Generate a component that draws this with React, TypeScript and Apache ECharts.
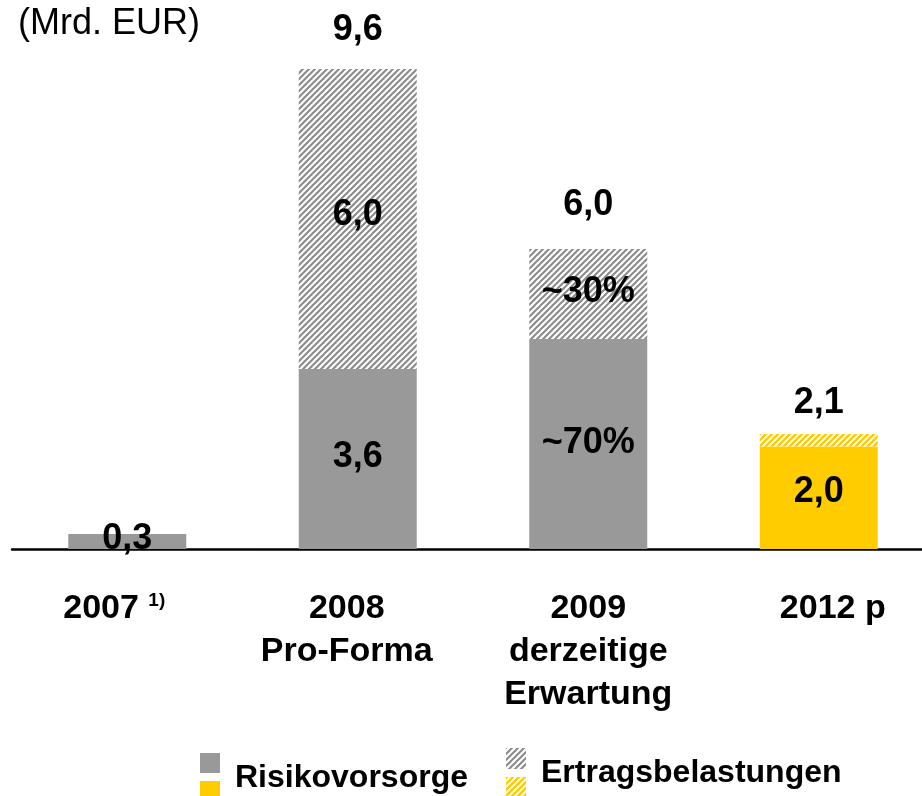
import React, { useEffect, useRef } from "react";
import * as echarts from "echarts";

const categories = ["2007", "2008\nPro-Forma", "2009\nderzeitige\nErwartung", "2012 p"];
const risikovorsorge = [0.3, 3.6, 4.2, 2.05];
const ertragsbelastungen = [0, 6.0, 1.8, 0.25];
const riskLabels = ["0,3", "3,6", "~70%", "2,0"];
const ertragLabels = ["", "6,0", "~30%", ""];
const totalLabels = ["", "9,6", "6,0", "2,1"];
const highlight = [false, false, false, true];
const unitLabel = "(Mrd. EUR)";
const legendNames = ["Risikovorsorge", "Ertragsbelastungen"];

const GRAY = "#999999";
const YELLOW = "#FFCC00";
const FONT = "'Liberation Sans', Arial, sans-serif";

function makeHatch(color: string, size: number, lw: number) {
  const c = document.createElement("canvas");
  c.width = size;
  c.height = size;
  const ctx = c.getContext("2d")!;
  ctx.fillStyle = "#ffffff";
  ctx.fillRect(0, 0, size, size);
  ctx.strokeStyle = color;
  ctx.lineWidth = lw;
  ctx.lineCap = "square";
  const seg = (x1: number, y1: number, x2: number, y2: number) => {
    ctx.beginPath();
    ctx.moveTo(x1, y1);
    ctx.lineTo(x2, y2);
    ctx.stroke();
  };
  seg(-size, size, size, -size);
  seg(0, size, size, 0);
  seg(0, 2 * size, 2 * size, 0);
  return c;
}

export default function App() {
  const ref = useRef<HTMLDivElement>(null);
  useEffect(() => {
    if (!ref.current) return;
    const chart = echarts.init(ref.current, undefined, { renderer: "svg" });
    const grayHatch = { image: makeHatch("#8a8a8a", 6, 2), repeat: "repeat" } as any;
    const yellowHatch = { image: makeHatch(YELLOW, 6, 2.4), repeat: "repeat" } as any;

    const labelFont = { fontFamily: FONT, fontWeight: "bold" as const, fontSize: 36, color: "#000" };
    const riskOffsets = [-5, -5, -4, -8];
    const ertragOffsets = [0, -7, -5, 0];
    const totalDistances = [0, 24, 29, 16];
    const catPadding = [
      [0, 26, 0, 0],
      [0, 22, 0, 0],
      [0, 0, 0, 0],
      [0, 0, 0, 28],
    ];

    chart.setOption({
      animation: false,
      grid: { left: 12, right: 0, top: 49, bottom: 247, containLabel: false },
      xAxis: {
        type: "category",
        data: categories.map((c, i) => ({ value: c, textStyle: { padding: catPadding[i] } })),
        axisLine: { show: true, lineStyle: { color: "#000", width: 2.5 } },
        axisTick: { show: false },
        axisLabel: {
          interval: 0,
          margin: 35,
          fontFamily: FONT,
          fontWeight: "bold",
          fontSize: 34,
          lineHeight: 43,
          color: "#000",
          formatter: (v: string) => (v === "2007" ? "{a|2007} {s|1)}" : v),
          rich: {
            a: { fontFamily: FONT, fontWeight: "bold", fontSize: 34, lineHeight: 43, color: "#000" },
            s: { fontFamily: FONT, fontWeight: "bold", fontSize: 19, lineHeight: 43, color: "#000", verticalAlign: "top", padding: [6, 0, 0, 0] },
          },
        },
      },
      yAxis: { type: "value", min: 0, max: 10, show: false, splitLine: { show: false } },
      series: [
        {
          name: legendNames[0],
          type: "bar",
          stack: "s",
          barWidth: 118,
          data: risikovorsorge.map((v, i) => ({
            value: v,
            itemStyle: { color: highlight[i] ? YELLOW : GRAY },
            label: { show: true, position: "inside", offset: [0, riskOffsets[i]], formatter: riskLabels[i], ...labelFont },
          })),
        },
        {
          name: legendNames[1],
          type: "bar",
          stack: "s",
          barWidth: 118,
          data: ertragsbelastungen.map((v, i) => ({
            value: v,
            itemStyle: { color: highlight[i] ? yellowHatch : grayHatch },
            label: {
              show: ertragLabels[i] !== "",
              position: "inside",
              offset: [0, ertragOffsets[i]],
              formatter: ertragLabels[i],
              ...labelFont,
            },
          })),
        },
        {
          name: "total",
          type: "bar",
          stack: "s",
          barWidth: 118,
          itemStyle: { color: "transparent" },
          data: totalLabels.map((t, i) => ({
            value: 0,
            label: {
              show: t !== "",
              position: "top",
              distance: totalDistances[i],
              formatter: t,
              ...labelFont,
            },
          })),
        },
      ],
      graphic: [
        {
          type: "text",
          left: 18,
          top: 3,
          style: { text: unitLabel, fontFamily: FONT, fontSize: 36, fill: "#000" },
        },
        { type: "rect", shape: { x: 200, y: 753, width: 20, height: 20 }, style: { fill: GRAY } },
        { type: "rect", shape: { x: 200, y: 781, width: 20, height: 20 }, style: { fill: YELLOW } },
        { type: "rect", shape: { x: 506, y: 748, width: 20, height: 21 }, style: { fill: grayHatch } },
        { type: "rect", shape: { x: 506, y: 777, width: 20, height: 20 }, style: { fill: yellowHatch } },
        {
          type: "text",
          x: 235,
          y: 776,
          style: { text: legendNames[0], fontFamily: FONT, fontWeight: "bold", fontSize: 32, fill: "#000", textVerticalAlign: "middle" },
        },
        {
          type: "text",
          x: 541,
          y: 771,
          style: { text: legendNames[1], fontFamily: FONT, fontWeight: "bold", fontSize: 32, fill: "#000", textVerticalAlign: "middle" },
        },
      ],
    });
    return () => chart.dispose();
  }, []);
  return (
    <div
      ref={ref}
      style={{ position: "fixed", left: 0, top: 0, width: 934, height: 796 }}
    />
  );
}
